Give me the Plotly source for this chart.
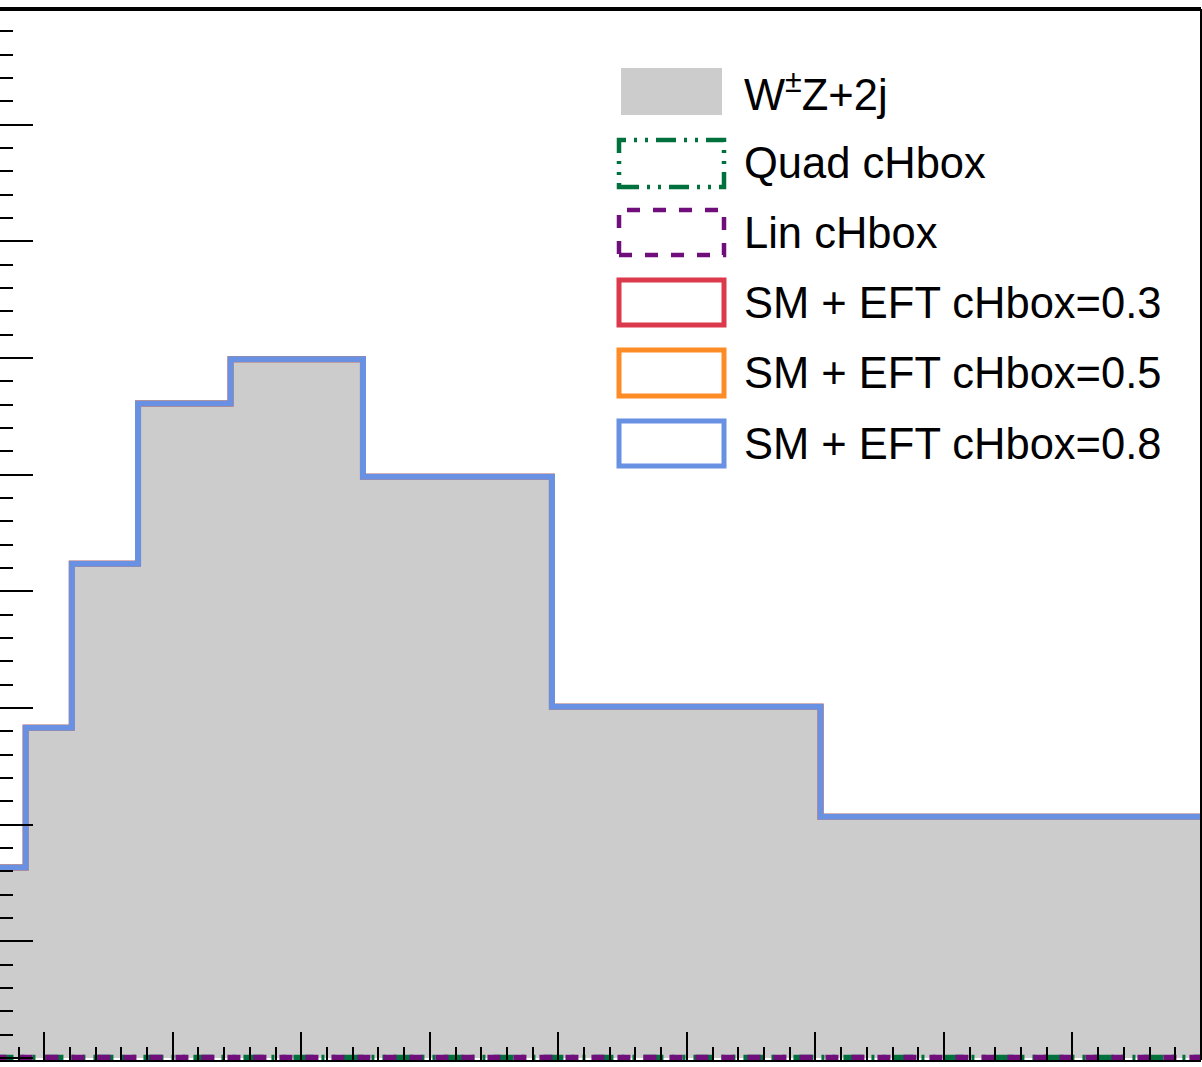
import plotly.graph_objects as go

# ---- data ----
bin_edges = [0.605, 0.856, 1.215, 1.73, 2.45, 3.48, 4.95, 7.04, 10.0]
sm_wz2j = [1.634, 2.831, 4.237, 5.610, 5.990, 4.982, 3.011, 2.068]
quad_chbox = [0.0, 0.0, 0.0, 0.0, 0.0, 0.0, 0.0, 0.0]
lin_chbox = [0.0, 0.0, 0.0, 0.0, 0.0, 0.0, 0.0, 0.0]
eft_03 = [1.634, 2.831, 4.237, 5.610, 5.990, 4.982, 3.011, 2.068]
eft_05 = [1.634, 2.831, 4.237, 5.610, 5.990, 4.982, 3.011, 2.068]
eft_08 = [1.634, 2.831, 4.237, 5.610, 5.990, 4.982, 3.011, 2.068]

legend_labels = ["W<sup>±</sup>Z+2j", "Quad cHbox", "Lin cHbox",
                 "SM + EFT cHbox=0.3", "SM + EFT cHbox=0.5", "SM + EFT cHbox=0.8"]

GRAY = "#cccccc"
GREEN = "#00703c"
PURPLE = "#700f7c"
RED = "#dc3a4c"
ORANGE = "#fd8c26"
BLUE = "#6891e4"

W, H = 1202, 1067
ML, MR, MT, MB = 0, 1, 8, 7
PW = W - ML - MR
PH = H - MT - MB


def step_xy(edges, vals):
    return list(edges), list(vals) + [vals[-1]]


fig = go.Figure()

x, y = step_xy(bin_edges, sm_wz2j)
fig.add_trace(go.Scatter(x=x, y=y, mode="lines", line_shape="hv", fill="tozeroy",
                         fillcolor=GRAY, line=dict(color=GRAY, width=0.5),
                         showlegend=False, hoverinfo="skip"))

x, y = step_xy(bin_edges, quad_chbox)
fig.add_trace(go.Scatter(x=x, y=y, mode="lines", line_shape="hv",
                         line=dict(color=GREEN, width=6.5, dash="20px,8px,3px,8px,3px,8px"),
                         showlegend=False, hoverinfo="skip"))
x, y = step_xy(bin_edges, lin_chbox)
fig.add_trace(go.Scatter(x=x, y=y, mode="lines", line_shape="hv",
                         line=dict(color=PURPLE, width=6.5, dash="13px,13px"),
                         showlegend=False, hoverinfo="skip"))

for vals, col in [(eft_03, RED), (eft_05, ORANGE), (eft_08, BLUE)]:
    x, y = step_xy(bin_edges, vals)
    fig.add_trace(go.Scatter(x=x, y=y, mode="lines", line_shape="hv",
                             line=dict(color=col, width=6),
                             showlegend=False, hoverinfo="skip"))


def px(xp):
    return (xp - ML) / PW


def py(yp):
    return (H - MB - yp) / PH


shapes = []
# frame: thick top line, thin right line
shapes.append(dict(type="line", xref="paper", yref="paper", x0=0, x1=1,
                   y0=py(9), y1=py(9), line=dict(color="black", width=4)))
shapes.append(dict(type="line", xref="paper", yref="paper", x0=1, x1=1,
                   y0=0, y1=py(9), line=dict(color="black", width=2)))

# legend boxes
shapes.append(dict(type="rect", xref="paper", yref="paper",
                   x0=px(621), x1=px(722), y0=py(115), y1=py(68),
                   fillcolor=GRAY, line=dict(width=0)))
box_rows = [(140, 187, GREEN, "20px,8px,3px,8px,3px,8px"),
            (210, 255, PURPLE, "13px,13px"),
            (280, 325, RED, "solid"),
            (350, 396, ORANGE, "solid"),
            (421, 466, BLUE, "solid")]
for y0, y1, col, dash in box_rows:
    shapes.append(dict(type="rect", xref="paper", yref="paper",
                       x0=px(619), x1=px(724), y0=py(y1), y1=py(y0),
                       fillcolor="rgba(0,0,0,0)",
                       line=dict(color=col, width=5 if dash == "solid" else 4.5, dash=dash)))

annotations = []
text_rows = [91.5, 163.5, 233, 303, 373, 444]
for lab, yc in zip(legend_labels, text_rows):
    annotations.append(dict(xref="paper", yref="paper", x=px(742), y=py(yc),
                            xanchor="left", yanchor="middle", text=lab, showarrow=False,
                            font=dict(family="Liberation Sans, Arial, sans-serif",
                                      size=43.5, color="black")))

fig.update_layout(
    width=W, height=H,
    margin=dict(l=ML, r=MR, t=MT, b=MB, pad=0),
    paper_bgcolor="white", plot_bgcolor="white",
    showlegend=False,
    shapes=shapes, annotations=annotations,
    xaxis=dict(range=[0.656, 10.0], showgrid=False, zeroline=False,
               showticklabels=False, ticks="inside", ticklen=28, tickwidth=2,
               tickcolor="black", tick0=0, dtick=1,
               minor=dict(ticks="inside", ticklen=13, tickwidth=2, tickcolor="black",
                          tick0=0, dtick=0.2, showgrid=False),
               showline=True, linecolor="black", linewidth=2, mirror=False),
    yaxis=dict(range=[-0.017, 9.0], showgrid=False, zeroline=False,
               showticklabels=False, ticks="inside", ticklen=33, tickwidth=2,
               tickcolor="black", tick0=0, dtick=1,
               minor=dict(ticks="inside", ticklen=13, tickwidth=2, tickcolor="black",
                          tick0=0, dtick=0.2, showgrid=False),
               showline=False),
)

fig.write_html("out.html", config={"displayModeBar": False, "staticPlot": True},
               post_script="document.body.style.margin='0';document.body.style.padding='0';")
